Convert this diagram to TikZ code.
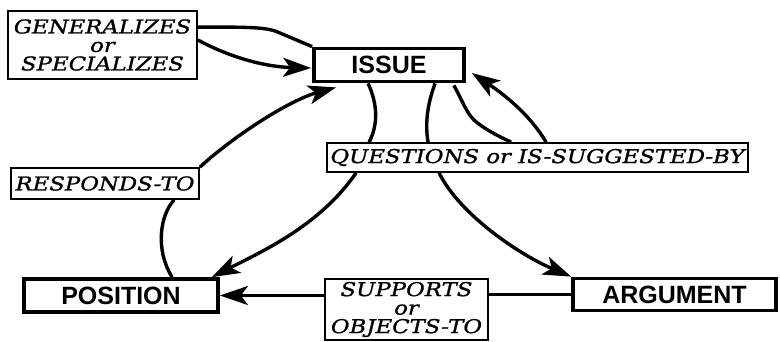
\documentclass[tikz,border=0pt]{standalone}
\usepackage{fontspec}
\setmainfont{Liberation Sans}
\newfontfamily\labfont{DejaVu Serif}[FakeStretch=1.2,FakeBold=1.2]
\usetikzlibrary{arrows.meta,calc}
\tikzset{
  mainbox/.style={draw, line width=3.8pt, minimum height=33pt, inner sep=0pt,
    font=\fontsize{25}{25}\selectfont\bfseries},
  labbox/.style={draw, line width=1.8pt, fill=white, inner sep=0pt, align=center,
    font=\labfont\itshape\fontsize{19}{18.5}\selectfont},
  conn/.style={line width=3.4pt},
  arr/.style={conn, -{Stealth[length=28pt,width=19pt,inset=7pt]}}
}
\begin{document}
\begin{tikzpicture}[x=1pt,y=-1pt]
\useasboundingbox (0,0) rectangle (780,341);
\node[mainbox, minimum width=150pt] (iss) at (389,65) {ISSUE};
\node[mainbox, minimum width=194pt] (pos) at (121,295.5) {POSITION};
\node[mainbox, minimum width=203pt, minimum height=32pt] (arg) at (674.5,294.5) {ARGUMENT};
\node[labbox, minimum width=189pt, minimum height=68pt] (gen) at (102.5,45) {GENERALIZES\\or\\SPECIALIZES};
\node[labbox, minimum width=188pt, minimum height=31pt] (resp) at (105,183.5) {RESPONDS-TO};
\node[labbox, minimum width=421pt, minimum height=29pt] (ques) at (537.5,157.5) {QUESTIONS or IS-SUGGESTED-BY};
\node[labbox, minimum width=163pt, minimum height=61pt] (sup) at (406.5,309.5) {SUPPORTS\\or\\OBJECTS-TO};
% generalizes / specializes
\draw[conn] ($(gen.north east)+(0,17)$) .. controls (250,27) and (268,27) .. (280,33) -- (iss.north west);
\draw[arr] ($(gen.east)+(0,-5)$) .. controls (235,60) and (270,67) .. ($(iss.west)+(-1,3)$);
% responds-to
\draw[conn] ($(pos.north west)+(150,0)$) .. controls (155,250) and (160,215) .. ($(resp.south west)+(164,0)$);
\draw[arr] (resp.north east) .. controls (235,135) and (290,100) .. ($(iss.south west)+(24,4)$);
% questions
\draw[conn] ($(iss.south west)+(56,0)$) .. controls (378,105) and (378,125) .. ($(ques.north west)+(43,0)$);
\draw[arr] ($(ques.south west)+(30,0)$) .. controls (320,225) and (265,250) .. ($(pos.north east)+(-8,0)$);
\draw[conn] ($(iss.south west)+(123,0)$) .. controls (427,105) and (425,125) .. ($(ques.north west)+(102,0)$);
\draw[arr] ($(ques.south west)+(113,0)$) .. controls (460,215) and (520,255) .. (arg.north west);
% is-suggested-by
\draw[conn] ($(iss.south east)+(-12,2)$) .. controls (462,100) and (466,112) .. (474,120) .. controls (484,129) and (498,136) .. ($(ques.north west)+(185,0)$);
\draw[arr] ($(ques.north west)+(220,0)$) .. controls (530,115) and (505,95) .. ($(iss.east)+(6,8)$);
% supports / objects-to
\draw[conn] (arg.west) -- (arg.west -| sup.east);
\draw[arr] (sup.west |- pos.east) -- (pos.east);
\end{tikzpicture}
\end{document}
